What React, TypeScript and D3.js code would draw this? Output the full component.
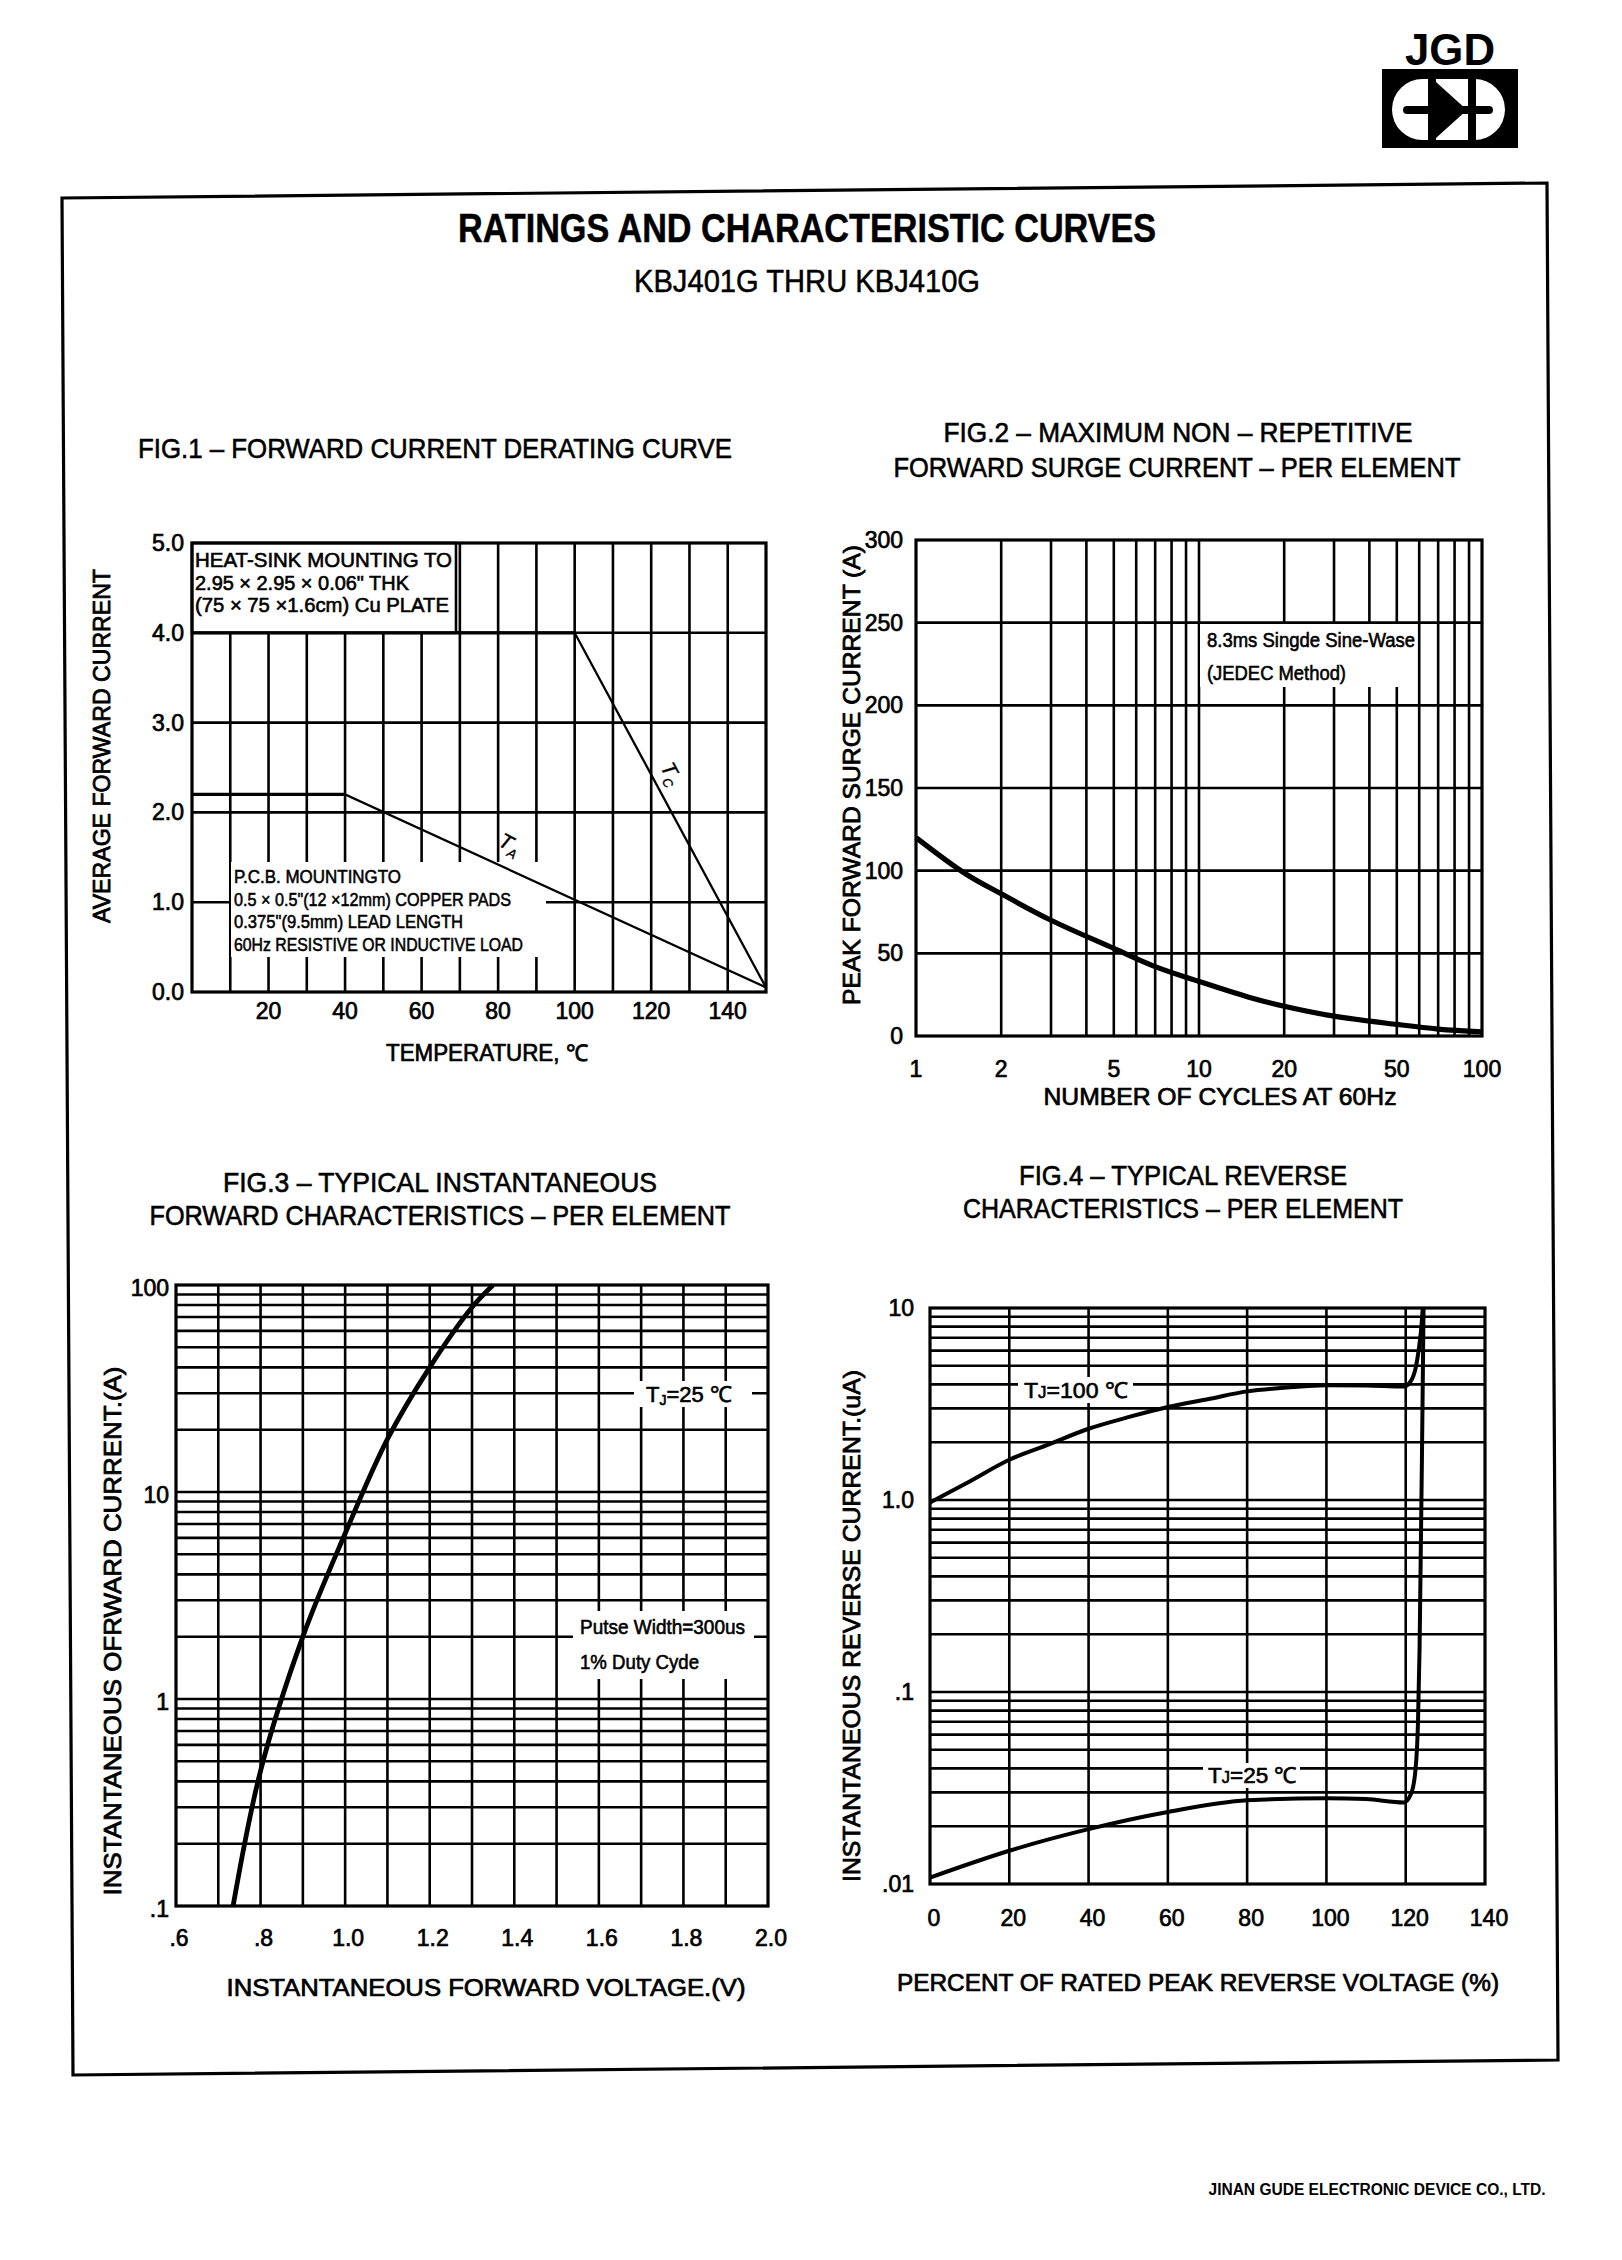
import React from 'react';
import * as d3 from 'd3';

const SANS = "'Liberation Sans', Arial, Helvetica, sans-serif";
const NARROW = "'Liberation Sans Narrow', 'Arial Narrow', 'Liberation Sans', Arial, sans-serif";

// ---------------- Fig.1 data ----------------
const fig1XTicks = [20, 40, 60, 80, 100, 120, 140];
const fig1YTicks = [0, 1, 2, 3, 4, 5];
const fig1TaTemp = [0, 40, 150];
const fig1TaAmps = [2.2, 2.2, 0.05];
const fig1TcTemp = [0, 100, 150];
const fig1TcAmps = [4.0, 4.0, 0.05];
const fig1HeatSinkNote = ['HEAT-SINK MOUNTING TO', '2.95 × 2.95 × 0.06" THK', '(75 × 75 ×1.6cm) Cu PLATE'];
const fig1PcbNote = ['P.C.B. MOUNTINGTO', '0.5 × 0.5"(12 ×12mm) COPPER PADS', '0.375"(9.5mm) LEAD LENGTH', '60Hz RESISTIVE OR INDUCTIVE LOAD'];

// ---------------- Fig.2 data ----------------
const fig2XTicks = [1, 2, 5, 10, 20, 50, 100];
const fig2YTicks = [0, 50, 100, 150, 200, 250, 300];
const fig2Cycles = [1, 1.5, 2, 3, 5, 7, 10, 15, 20, 30, 50, 70, 100];
const fig2Amps = [120, 98, 86, 70, 53, 42, 33, 23.5, 18, 12, 7, 4.2, 2.5];
const fig2Note = ['8.3ms Singde Sine-Wase', '(JEDEC Method)'];

// ---------------- Fig.3 data ----------------
const fig3XTicks = [0.6, 0.8, 1.0, 1.2, 1.4, 1.6, 1.8, 2.0];
const fig3XTickLabels = ['.6', '.8', '1.0', '1.2', '1.4', '1.6', '1.8', '2.0'];
const fig3YTicks = [0.1, 1, 10, 100];
const fig3YTickLabels = ['.1', '1', '10', '100'];
const fig3Volts = [0.735, 0.8, 0.9, 1.0, 1.1, 1.2, 1.3, 1.35];
const fig3Amps = [0.1, 0.45, 2.0, 6.3, 18, 40, 78, 100];
const fig3Note = ['Putse Width=300us', '1% Duty Cyde'];

// ---------------- Fig.4 data ----------------
const fig4XTicks = [0, 20, 40, 60, 80, 100, 120, 140];
const fig4YTicks = [0.01, 0.1, 1, 10];
const fig4YTickLabels = ['.01', '.1', '1.0', '10'];
const fig4Pct100 = [0, 10, 20, 30, 40, 50, 60, 70, 80, 90, 100, 110, 119.5, 121.4, 122.5, 123.3, 124, 124.3];
const fig4Amps100 = [0.97, 1.25, 1.62, 1.95, 2.35, 2.7, 3.05, 3.35, 3.68, 3.85, 3.96, 3.95, 3.9, 4.2, 4.86, 6.1, 8.2, 10];
const fig4Pct25 = [0, 20, 40, 60, 80, 100, 110, 119.5, 121.4, 122.5, 123.1, 123.5, 123.8, 124.1, 124.3, 124.5];
const fig4Amps25 = [0.0108, 0.0149, 0.0193, 0.0237, 0.0273, 0.028, 0.0277, 0.0266, 0.0297, 0.04, 0.07, 0.17, 0.54, 1.7, 4.1, 10];

type TxtProps = {
  x: number; y: number; s: React.ReactNode; size?: number; anchor?: string; len?: number;
  bold?: boolean; family?: string; rot?: number; thick?: number; italic?: boolean;
};
const Txt = ({ x, y, s, size = 20, anchor = 'start', len, bold = false, family = SANS, rot = 0, thick = 0.5, italic = false }: TxtProps) => (
  <text
    x={x} y={y} fontSize={size} fontFamily={family} fontWeight={bold ? 'bold' : 'normal'}
    fontStyle={italic ? 'italic' : 'normal'}
    textAnchor={anchor as any} textLength={len} lengthAdjust={len ? 'spacingAndGlyphs' : undefined}
    transform={rot ? `rotate(${rot} ${x} ${y})` : undefined}
    fill="#000" stroke="#000" strokeWidth={thick}
  >{s}</text>
);

const GRID = 2.6;
const FRAME = 3.2;
const TICK = 23;
const AXT = 0.8;

function Fig1() {
  const x = d3.scaleLinear().domain([0, 150]).range([192, 766]);
  const y = d3.scaleLinear().domain([0, 5]).range([992, 543]);
  const vGrid = x.ticks(15).filter(v => v > 0 && v < 150);
  const hGrid = [1, 2, 3, 4];
  const mk = (xs: number[], ys: number[]) =>
    d3.line<number>().x(i => x(xs[i])).y(i => y(ys[i]))(xs.map((_, i) => i)) || '';
  return (
    <g>
      {vGrid.map(v => <line key={'v' + v} x1={x(v)} x2={x(v)} y1={y(5)} y2={y(0)} stroke="#000" strokeWidth={GRID} />)}
      {hGrid.map(v => <line key={'h' + v} x1={x(0)} x2={x(150)} y1={y(v)} y2={y(v)} stroke="#000" strokeWidth={GRID} />)}
      <rect x={x(0)} y={y(5)} width={456 - x(0)} height={y(4) - y(5)} fill="#fff" stroke="#000" strokeWidth={2.6} />
      {fig1HeatSinkNote.map((s, i) => (
        <Txt key={s} x={195} y={567 + i * 22.5} s={s} size={20} family={NARROW} len={[257, 214, 254][i]} thick={0.6} />
      ))}
      <rect x={231} y={862} width={315} height={95} fill="#fff" />
      {fig1PcbNote.map((s, i) => (
        <Txt key={s} x={234} y={883 + i * 22.5} s={s} size={18} family={NARROW} len={[167, 277, 229, 289][i]} thick={0.55} />
      ))}
      <path d={mk(fig1TaTemp, fig1TaAmps)} fill="none" stroke="#000" strokeWidth={2.3} />
      <path d={mk(fig1TcTemp, fig1TcAmps)} fill="none" stroke="#000" strokeWidth={2.3} />
      <line x1={x(0)} x2={x(40)} y1={y(2.2)} y2={y(2.2)} stroke="#000" strokeWidth={3.2} />
      <line x1={x(0)} x2={x(100)} y1={y(4)} y2={y(4)} stroke="#000" strokeWidth={3.2} />
      <rect x={x(0)} y={y(5)} width={x(150) - x(0)} height={y(0) - y(5)} fill="none" stroke="#000" strokeWidth={FRAME} />
      <text x={497} y={845} fontSize={21} fontFamily={SANS} fontStyle="italic" stroke="#000" strokeWidth={0.4} transform="rotate(28 497 845)">
        T<tspan fontSize={13} dy={5}>A</tspan>
      </text>
      <text x={660} y={767} fontSize={21} fontFamily={SANS} fontStyle="italic" stroke="#000" strokeWidth={0.4} transform="rotate(62 660 767)">
        T<tspan fontSize={13} dy={5}>C</tspan>
      </text>
      {fig1YTicks.map(v => <Txt key={'yl' + v} x={184} y={y(v) + 8} s={d3.format('.1f')(v)} anchor="end" size={TICK} thick={0.7} />)}
      {fig1XTicks.map(v => <Txt key={'xl' + v} x={x(v)} y={1019} s={String(v)} anchor="middle" size={TICK} thick={0.7} />)}
      <Txt x={110} y={746} s="AVERAGE FORWARD CURRENT" anchor="middle" size={24} rot={-90} len={354} thick={AXT} />
      <Txt x={487} y={1061} s="TEMPERATURE, ℃" anchor="middle" size={23} family={NARROW} len={202} thick={0.7} />
      <Txt x={435} y={458} s="FIG.1 – FORWARD CURRENT DERATING CURVE" anchor="middle" size={28} family={NARROW} len={594} thick={0.6} />
    </g>
  );
}

function Fig2() {
  const x = d3.scaleLog().domain([1, 100]).range([916, 1482]);
  const y = d3.scaleLinear().domain([0, 300]).range([1036, 540]);
  const vGrid = x.ticks().filter(v => v > 1 && v < 100);
  const hGrid = [50, 100, 150, 200, 250];
  const path = d3.line<number>().x(i => x(fig2Cycles[i])).y(i => y(fig2Amps[i])).curve(d3.curveCatmullRom.alpha(0.5))(fig2Cycles.map((_, i) => i)) || '';
  return (
    <g>
      {vGrid.map(v => <line key={'v' + v} x1={x(v)} x2={x(v)} y1={y(300)} y2={y(0)} stroke="#000" strokeWidth={GRID} />)}
      {hGrid.map(v => <line key={'h' + v} x1={x(1)} x2={x(100)} y1={y(v)} y2={y(v)} stroke="#000" strokeWidth={GRID} />)}
      <rect x={1200} y={624} width={212} height={63} fill="#fff" />
      {fig2Note.map((s, i) => <Txt key={s} x={1207} y={647 + i * 33} s={s} size={20} family={NARROW} len={[208, 139][i]} thick={0.6} />)}
      <path d={path} fill="none" stroke="#000" strokeWidth={5.2} />
      <rect x={x(1)} y={y(300)} width={x(100) - x(1)} height={y(0) - y(300)} fill="none" stroke="#000" strokeWidth={FRAME} />
      {fig2YTicks.map(v => <Txt key={'yl' + v} x={903} y={y(v) + 8} s={String(v)} anchor="end" size={TICK} thick={0.7} />)}
      {fig2XTicks.map(v => <Txt key={'xl' + v} x={x(v)} y={1077} s={String(v)} anchor="middle" size={TICK} thick={0.7} />)}
      <Txt x={860} y={775} s="PEAK FORWARD SURGE CURRENT (A)" anchor="middle" size={24} rot={-90} len={460} thick={AXT} />
      <Txt x={1220} y={1105} s="NUMBER OF CYCLES AT 60Hz" anchor="middle" size={23} len={353} thick={0.7} />
      <Txt x={1178} y={442} s="FIG.2 – MAXIMUM NON – REPETITIVE" anchor="middle" size={28} family={NARROW} len={469} thick={0.6} />
      <Txt x={1177} y={477} s="FORWARD SURGE CURRENT – PER ELEMENT" anchor="middle" size={28} family={NARROW} len={567} thick={0.6} />
    </g>
  );
}

function Fig3() {
  const x = d3.scaleLinear().domain([0.6, 2.0]).range([176, 768]);
  const y = d3.scaleLog().domain([0.1, 100]).range([1906, 1285]);
  const vGrid = d3.range(7, 20).map(v => v / 10);
  const hGrid = y.ticks().filter(v => v > 0.1 && v < 100);
  const path = d3.line<number>().x(i => x(fig3Volts[i])).y(i => y(fig3Amps[i])).curve(d3.curveCatmullRom.alpha(0.5))(fig3Volts.map((_, i) => i)) || '';
  return (
    <g>
      {vGrid.map(v => <line key={'v' + v} x1={x(v)} x2={x(v)} y1={y(100)} y2={y(0.1)} stroke="#000" strokeWidth={GRID} />)}
      {hGrid.map(v => <line key={'h' + v} x1={x(0.6)} x2={x(2.0)} y1={y(v)} y2={y(v)} stroke="#000" strokeWidth={GRID} />)}
      <rect x={634} y={1381} width={118} height={26} fill="#fff" />
      <text x={646} y={1402} fontSize={22} fontFamily={SANS} stroke="#000" strokeWidth={0.6}>
        T<tspan fontSize={14} dy={3}>J</tspan><tspan dy={-3}>=25 ℃</tspan>
      </text>
      <rect x={573} y={1611} width={181} height={68} fill="#fff" />
      {fig3Note.map((s, i) => <Txt key={s} x={580} y={1634 + i * 35} s={s} size={20} family={NARROW} len={[165, 119][i]} thick={0.6} />)}
      <path d={path} fill="none" stroke="#000" strokeWidth={4.8} />
      <rect x={x(0.6)} y={y(100)} width={x(2.0) - x(0.6)} height={y(0.1) - y(100)} fill="none" stroke="#000" strokeWidth={FRAME} />
      {fig3YTicks.map((v, i) => <Txt key={'yl' + v} x={169} y={y(v) + 11} s={fig3YTickLabels[i]} anchor="end" size={TICK} thick={0.7} />)}
      {fig3XTicks.map((v, i) => <Txt key={'xl' + v} x={x(v) + 3} y={1946} s={fig3XTickLabels[i]} anchor="middle" size={TICK} thick={0.7} />)}
      <Txt x={121} y={1631} s="INSTANTANEOUS OFRWARD CURRENT.(A)" anchor="middle" size={24} rot={-90} len={529} thick={AXT} />
      <Txt x={486} y={1996} s="INSTANTANEOUS FORWARD VOLTAGE.(V)" anchor="middle" size={23} len={519} thick={0.7} />
      <Txt x={440} y={1192} s="FIG.3 – TYPICAL INSTANTANEOUS" anchor="middle" size={28} family={NARROW} len={434} thick={0.6} />
      <Txt x={440} y={1225} s="FORWARD CHARACTERISTICS – PER ELEMENT" anchor="middle" size={28} family={NARROW} len={581} thick={0.6} />
    </g>
  );
}

function Fig4() {
  const x = d3.scaleLinear().domain([0, 140]).range([930, 1485]);
  const y = d3.scaleLog().domain([0.01, 10]).range([1884, 1308]);
  const vGrid = fig4XTicks.filter(v => v > 0 && v < 140);
  const hGrid = y.ticks().filter(v => v > 0.01 && v < 10);
  const mk = (xs: number[], ys: number[]) =>
    d3.line<number>().x(i => x(xs[i])).y(i => y(ys[i])).curve(d3.curveMonotoneX)(xs.map((_, i) => i)) || '';
  return (
    <g>
      {vGrid.map(v => <line key={'v' + v} x1={x(v)} x2={x(v)} y1={y(10)} y2={y(0.01)} stroke="#000" strokeWidth={GRID} />)}
      {hGrid.map(v => <line key={'h' + v} x1={x(0)} x2={x(140)} y1={y(v)} y2={y(v)} stroke="#000" strokeWidth={GRID} />)}
      <rect x={1018} y={1377} width={115} height={26} fill="#fff" />
      <text x={1024} y={1398} fontSize={22} fontFamily={SANS} stroke="#000" strokeWidth={0.6} textLength={104} lengthAdjust="spacingAndGlyphs">
        T<tspan fontSize={16}>J</tspan>=100 ℃
      </text>
      <rect x={1203} y={1763} width={97} height={25} fill="#fff" />
      <text x={1208} y={1783} fontSize={22} fontFamily={SANS} stroke="#000" strokeWidth={0.6} textLength={89} lengthAdjust="spacingAndGlyphs">
        T<tspan fontSize={16}>J</tspan>=25 ℃
      </text>
      <path d={mk(fig4Pct100, fig4Amps100)} fill="none" stroke="#000" strokeWidth={4} />
      <path d={mk(fig4Pct25, fig4Amps25)} fill="none" stroke="#000" strokeWidth={4} />
      <rect x={x(0)} y={y(10)} width={x(140) - x(0)} height={y(0.01) - y(10)} fill="none" stroke="#000" strokeWidth={FRAME} />
      {fig4YTicks.map((v, i) => <Txt key={'yl' + v} x={914} y={y(v) + 8} s={fig4YTickLabels[i]} anchor="end" size={TICK} thick={0.7} />)}
      {fig4XTicks.map(v => <Txt key={'xl' + v} x={x(v) + 4} y={1926} s={String(v)} anchor="middle" size={TICK} thick={0.7} />)}
      <Txt x={860} y={1626} s="INSTANTANEOUS REVERSE CURRENT.(uA)" anchor="middle" size={24} rot={-90} len={512} thick={AXT} />
      <Txt x={1198} y={1991} s="PERCENT OF RATED PEAK REVERSE VOLTAGE (%)" anchor="middle" size={23} len={602} thick={0.7} />
      <Txt x={1183} y={1185} s="FIG.4 – TYPICAL REVERSE" anchor="middle" size={28} family={NARROW} len={328} thick={0.6} />
      <Txt x={1183} y={1218} s="CHARACTERISTICS – PER ELEMENT" anchor="middle" size={28} family={NARROW} len={440} thick={0.6} />
    </g>
  );
}

function Logo() {
  return (
    <g>
      <text x={1450} y={65} fontSize={44} fontWeight="bold" fontFamily={SANS} textAnchor="middle" textLength={90} lengthAdjust="spacingAndGlyphs">JGD</text>
      <rect x={1382} y={69} width={136} height={79} fill="#000" />
      <rect x={1392} y={79} width={113} height={61} rx={30.5} fill="#fff" />
      <rect x={1428} y={69} width={8} height={79} fill="#000" />
      <rect x={1468} y={69} width={8} height={79} fill="#000" />
      <polygon points="1436,82 1467,110 1436,138" fill="#000" />
      <rect x={1403} y={106} width={90} height={8} rx={4} fill="#000" />
    </g>
  );
}

export default function App() {
  return (
    <svg width={1622} height={2260} viewBox="0 0 1622 2260" style={{ position: 'absolute', left: 0, top: 0, display: 'block', background: '#fff' }}>
      <rect x={0} y={0} width={1622} height={2260} fill="#fff" />
      <Logo />
      <path d="M62,198 L1547,183 L1558,2060 L73,2075 Z" fill="none" stroke="#000" strokeWidth={3.2} />
      <Txt x={807} y={242} s="RATINGS AND CHARACTERISTIC CURVES" anchor="middle" size={40} bold family={NARROW} len={698} thick={0.5} />
      <Txt x={807} y={292} s="KBJ401G THRU KBJ410G" anchor="middle" size={32} family={NARROW} len={346} thick={0.5} />
      <Fig1 />
      <Fig2 />
      <Fig3 />
      <Fig4 />
      <Txt x={1377} y={2195} s="JINAN GUDE ELECTRONIC DEVICE CO., LTD." anchor="middle" size={16} bold len={337} thick={0} />
    </svg>
  );
}
